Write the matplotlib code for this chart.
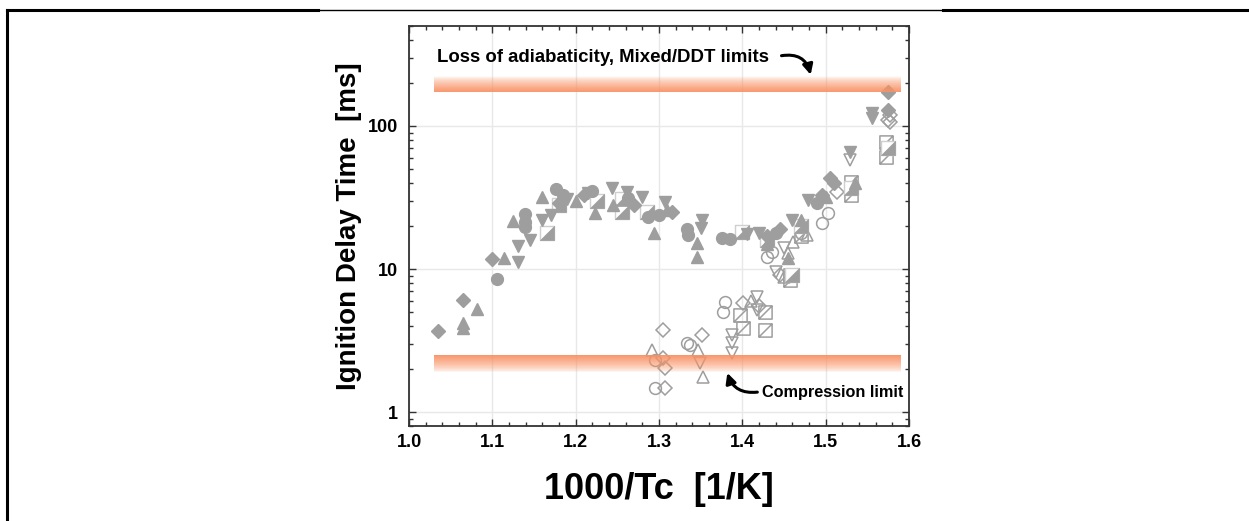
import numpy as np
import matplotlib
matplotlib.use("Agg")
import matplotlib.pyplot as plt
from matplotlib.path import Path
from matplotlib.lines import Line2D
from matplotlib.ticker import MultipleLocator, LogLocator, NullFormatter, FixedLocator

plt.rcParams['font.family'] = ['Liberation Sans', 'DejaVu Sans']
plt.rcParams['font.weight'] = 'bold'

# ---- data: 1000/Tc [1/K] and ignition delay [ms] ----
# filled symbols
fd_x = [1.035, 1.065, 1.100, 1.180, 1.210, 1.270, 1.315, 1.430, 1.445, 1.505, 1.510, 1.495, 1.575, 1.575]
fd_y = [3.7, 6.1, 11.7, 29, 33, 28, 25, 17, 19, 43, 40, 33, 172, 129]

fu_x = [1.065, 1.065, 1.082, 1.114, 1.125, 1.160, 1.200, 1.223, 1.245, 1.294, 1.310, 1.346, 1.346,
        1.430, 1.455, 1.470, 1.500, 1.535]
fu_y = [4.2, 3.9, 5.3, 11.9, 21.7, 32, 30, 24.6, 28, 17.9, 26, 15.2, 12.1, 15, 12, 22, 32, 40]

fc_x = [1.105, 1.139, 1.139, 1.139, 1.176, 1.185, 1.220, 1.263, 1.287, 1.300, 1.333, 1.335, 1.375,
        1.385, 1.440, 1.490]
fc_y = [8.5, 24.3, 21.3, 19.7, 36.3, 32.9, 35, 31.3, 23.1, 24, 19.0, 17.3, 16.5, 16.3, 18, 29]

fv_x = [1.131, 1.131, 1.145, 1.160, 1.170, 1.190, 1.215, 1.244, 1.262, 1.280, 1.307, 1.352, 1.350,
        1.405, 1.420, 1.460, 1.479, 1.529, 1.556, 1.556]
fv_y = [14.5, 11.2, 16, 22, 24, 31, 34, 36.8, 34.5, 31.8, 29.4, 22, 19.5, 17.5, 18, 22, 30.4, 65.7,
        123, 114]

fs_x = [1.165, 1.180, 1.225, 1.255, 1.255, 1.285, 1.400, 1.430, 1.460, 1.470, 1.530, 1.575]
fs_y = [18, 28, 30, 31, 25, 25, 18.2, 16, 9.1, 20, 36.8, 70]

# open symbols
oc_x = [1.295, 1.295, 1.333, 1.337, 1.379, 1.377, 1.430, 1.436, 1.496, 1.503, 1.470]
oc_y = [2.31, 1.47, 3.04, 2.95, 5.87, 5.0, 12.1, 13.1, 21, 24.7, 18]

od_x = [1.305, 1.305, 1.307, 1.307, 1.352, 1.401, 1.420, 1.445, 1.514, 1.577, 1.577, 1.575]
od_y = [3.74, 2.39, 2.03, 1.47, 3.45, 5.8, 5.5, 9.1, 34.5, 119, 106, 110]

ou_x = [1.291, 1.347, 1.353, 1.410, 1.455, 1.461, 1.477, 1.450]
ou_y = [2.71, 2.71, 1.76, 6.0, 13, 15.4, 17.3, 8.8]

ov_x = [1.349, 1.387, 1.387, 1.387, 1.418, 1.418, 1.440, 1.529, 1.450]
ov_y = [2.2, 3.45, 3.04, 2.58, 6.4, 5.17, 9.5, 57.8, 14]

os_x = [1.397, 1.401, 1.427, 1.427, 1.457, 1.457, 1.530, 1.530, 1.572, 1.572, 1.470]
os_y = [4.77, 3.86, 5.0, 3.74, 9.1, 8.4, 33, 40.6, 60.5, 77, 17]

# limit bands
band_x = [1.03, 1.59]
adiabatic_band = [173, 222]
compression_band = [1.9, 2.5]

# ---- markers ----
M, L, C = Path.MOVETO, Path.LINETO, Path.CLOSEPOLY
sq_diag = Path([(-1, -1), (1, -1), (1, 1), (-1, 1), (-1, -1), (-1, -1), (1, 1)],
               [M, L, L, L, C, M, L])
half_tri = Path([(-1, -1), (1, -1), (1, 1), (-1, -1)], [M, L, L, C])
sq_outline = Path([(-1, -1), (1, -1), (1, 1), (-1, 1), (-1, -1)], [M, L, L, L, C])

gray = '#9e9e9e'
band_col = np.array([248, 145, 100]) / 255.0

fig = plt.figure(figsize=(12.49, 5.21), dpi=100)
ax = fig.add_axes([409 / 1249, 1 - 426 / 521, 500 / 1249, 400 / 521])

ax.set_xlim(1.0, 1.6)
ax.set_yscale('log')
ax.set_ylim(0.8, 500)

# bands with vertical fade
def band(lims, fade_up):
    lo, hi = np.log10(lims[0]), np.log10(lims[1])
    n = 40
    edges = np.logspace(lo, hi, n + 1)
    for i in range(n):
        t = (i + 0.5) / n
        a = t if fade_up else 1 - t
        a = 0.95 * a ** 0.7
        ax.fill_between(band_x, edges[i], edges[i + 1], color=band_col, alpha=a,
                        lw=0, zorder=4)

band(adiabatic_band, fade_up=False)
band(compression_band, fade_up=True)

ms = 8.5
# open
ax.plot(oc_x, oc_y, 'o', ls='none', ms=ms, mfc='none', mec=gray, mew=1.1, zorder=2)
ax.plot(od_x, od_y, 'D', ls='none', ms=ms - 1.5, mfc='none', mec=gray, mew=1.1, zorder=2)
ax.plot(ou_x, ou_y, '^', ls='none', ms=ms, mfc='none', mec=gray, mew=1.1, zorder=2)
ax.plot(ov_x, ov_y, 'v', ls='none', ms=ms, mfc='none', mec=gray, mew=1.1, zorder=2)
ax.plot(os_x, os_y, marker=sq_diag, ls='none', ms=ms + 1, mfc='none', mec=gray, mew=1.1, zorder=2)
# filled
ax.plot(fs_x, fs_y, marker=sq_outline, ls='none', ms=ms + 1, mfc='white', mec='#cfcfcf', mew=1.0, zorder=3)
ax.plot(fs_x, fs_y, marker=half_tri, ls='none', ms=ms + 1, mfc=gray, mec=gray, mew=0.5, zorder=3)
ax.plot(fd_x, fd_y, 'D', ls='none', ms=ms - 1, mfc=gray, mec=gray, zorder=3)
ax.plot(fu_x, fu_y, '^', ls='none', ms=ms, mfc=gray, mec=gray, zorder=3)
ax.plot(fc_x, fc_y, 'o', ls='none', ms=ms, mfc=gray, mec=gray, zorder=3)
ax.plot(fv_x, fv_y, 'v', ls='none', ms=ms, mfc=gray, mec=gray, zorder=3)

# axes styling
ax.xaxis.set_major_locator(FixedLocator([1.0, 1.1, 1.2, 1.3, 1.4, 1.5, 1.6]))
ax.xaxis.set_minor_locator(MultipleLocator(0.02))
ax.yaxis.set_major_locator(FixedLocator([1, 10, 100]))
ax.yaxis.set_minor_locator(LogLocator(base=10, subs=np.arange(2, 10)))
ax.yaxis.set_minor_formatter(NullFormatter())
ax.set_yticklabels(['1', '10', '100'])
ax.set_xticklabels(['1.0', '1.1', '1.2', '1.3', '1.4', '1.5', '1.6'])
ax.grid(True, which='major', color='#e8e8e8', lw=1.0, zorder=0)
ax.set_axisbelow(True)
ax.tick_params(which='both', direction='in', top=True, right=True, color='#333333',
               labelsize=13, width=1.0)
ax.tick_params(which='major', length=5)
ax.tick_params(which='minor', length=3)
ax.tick_params(axis='x', pad=6)
ax.tick_params(axis='y', pad=8)
for lab in ax.get_xticklabels() + ax.get_yticklabels():
    lab.set_fontweight('bold')
for sp in ax.spines.values():
    sp.set_color('#333333')
    sp.set_linewidth(1.3)

ax.set_xlabel('1000/Tc  [1/K]', fontsize=26, fontweight='bold', labelpad=15)
ax.set_ylabel('Ignition Delay Time  [ms]', fontsize=20, fontweight='bold', labelpad=4)

# annotations
ax.text(1.034, 300, 'Loss of adiabaticity, Mixed/DDT limits', fontsize=13.4, fontweight='bold',
        va='center', ha='left', zorder=6)
ax.annotate('', xy=(1.482, 228), xytext=(1.447, 310),
            arrowprops=dict(arrowstyle='-|>', color='black', lw=2.2, mutation_scale=15,
                            shrinkA=0, shrinkB=0,
                            connectionstyle='arc3,rad=-0.45'), zorder=6)
ax.text(1.424, 1.38, 'Compression limit', fontsize=11.7, fontweight='bold',
        va='center', ha='left', zorder=6)
ax.annotate('', xy=(1.382, 1.88), xytext=(1.418, 1.38),
            arrowprops=dict(arrowstyle='-|>', color='black', lw=2.2, mutation_scale=15,
                            shrinkA=0, shrinkB=0,
                            connectionstyle='arc3,rad=-0.4'), zorder=6)

# page frame
def px(x, y):
    return (x / 1249, 1 - y / 521)

for (x0, y0, x1, y1, w) in [(7, 10, 318, 10, 2.2), (318, 9.5, 943, 9.5, 1.0),
                            (943, 10, 1249, 10, 2.2), (7, 10, 7, 521, 2.2)]:
    a, b = px(x0, y0)
    c, d = px(x1, y1)
    fig.add_artist(Line2D([a, c], [b, d], transform=fig.transFigure, color='black', lw=w))

fig.savefig('out.png', dpi=100)
